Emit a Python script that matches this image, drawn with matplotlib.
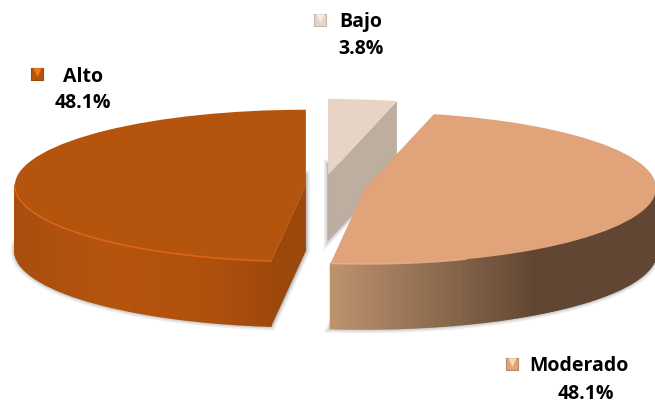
import numpy as np
import matplotlib
matplotlib.use("Agg")
from matplotlib import pyplot as plt
from matplotlib.colors import to_rgb

categories = ["Bajo", "Moderado", "Alto"]
values = [3.8, 48.1, 48.1]

top_colors = ["#e8d4c6", "#e0a37a", "#b5540d"]
cut_colors = ["#bdaea0", "#8a6a50", "#9c470c"]
rim_colors = [None, "#efb48c", "#ec6c1c"]
explode = [0.146, 0.147, 0.059]

W, H = 655, 405
CX, CY, RX, RY = 323, 186, 291, 76
DEPTH = 65 / RY

plt.rcParams["font.family"] = ["Open Sans", "DejaVu Sans"]
fig = plt.figure(figsize=(W / 100, H / 100), dpi=100)
ax = fig.add_axes([0, 0, 1, 1])

# soft shadow: the bottom face of the pie with a faded outline
for lw, alpha in [(6, 0.14), (3.5, 0.22), (1.5, 0.3)]:
  ax.pie(values, explode=explode, startangle=90, counterclock=False, center=(0, -DEPTH),
         colors=["#808080"] * 3,
         wedgeprops={"edgecolor": "#808080", "linewidth": lw, "alpha": alpha, "zorder": 1})

# top faces
wedges, _ = ax.pie(values, explode=explode, startangle=90, counterclock=False, colors=top_colors)
for w, z in zip(wedges, [3, 6, 6]):
  w.set_zorder(z)


def side_color(name, x):
  """ Horizontal shading of the outer wall, x in pixels """
  if name == "Moderado":
    stops, cols = [330, 535], ["#bf946f", "#614733"]
  else:
    stops, cols = [14, 120, 210, 272], ["#a84e0f", "#b6540e", "#b0500d", "#9f490c"]
  rgb = np.array([to_rgb(c) for c in cols])
  return [np.interp(x, stops, rgb[:, i]) for i in range(3)]


bounds = np.cumsum([0] + values) / sum(values) * 2 * np.pi
for i, name in enumerate(categories):
  t0, t1 = bounds[i], bounds[i + 1]
  mid = (t0 + t1) / 2
  ox, oy = explode[i] * np.sin(mid), explode[i] * np.cos(mid)

  # wall left by the cut, along the edge that faces the viewer
  edge = t0 if name == "Alto" else t1
  ex, ey = ox + np.sin(edge), oy + np.cos(edge)
  if name != "Moderado":
    ax.fill([ox, ex, ex, ox], [oy, ey, ey - DEPTH, oy - DEPTH],
            color=cut_colors[i], lw=0, zorder=2 if name == "Bajo" else 5)

  # outer wall, as narrow shaded strips
  t = np.linspace(t0, t1, 160)
  t = t[np.cos(t) < 0.02]
  if len(t) < 2:
    continue
  xs, ys = ox + np.sin(t), oy + np.cos(t)
  for j in range(len(t) - 1):
    c = side_color(name, CX + RX * xs[j])
    ax.fill([xs[j], xs[j + 1], xs[j + 1], xs[j]],
            [ys[j], ys[j + 1], ys[j + 1] - DEPTH, ys[j] - DEPTH],
            facecolor=c, edgecolor=c, lw=1.0, zorder=4)
  # lit edge between top face and wall
  keep = (CX + RX * xs) < (470 if name == "Moderado" else 400)
  ax.plot(xs[keep], ys[keep], color=rim_colors[i], lw=1.1, alpha=0.75, zorder=7,
          solid_capstyle="butt")

ax.set_aspect("auto")
ax.set_xlim(-CX / RX, (W - CX) / RX)
ax.set_ylim((CY - H) / RY, CY / RY)
ax.axis("off")

# labels, placed in pixels on an overlay
pix = fig.add_axes([0, 0, 1, 1], facecolor="none")
pix.set_xlim(0, W)
pix.set_ylim(H, 0)
pix.axis("off")

label_x = [361, 579, 83]
name_y = [22, 366, 77]
pct_x = [361, 586, 83]
pct_y = [49, 394, 103]
marker_x = [320, 512, 37]
marker_y = [20, 364, 74]
marker_edge = ["#c9b8ab", "#b98a66", "#9c470c"]
marker_light = ["#f6ece5", "#f7d9b0", "#ee7a20"]

for i, name in enumerate(categories):
  pix.text(label_x[i], name_y[i], name, ha="center", va="center",
           fontsize=14, fontweight="bold", color="black")
  pix.text(pct_x[i], pct_y[i], f"{values[i]:.1f}%", ha="center", va="center",
           fontsize=14, fontweight="bold", color="black")
  pix.scatter([marker_x[i]], [marker_y[i]], marker="s", s=85, color=top_colors[i],
              edgecolors=marker_edge[i], linewidths=0.8)
  pix.scatter([marker_x[i]], [marker_y[i] - 2], marker="v", s=38, color=marker_light[i],
              linewidths=0)

fig.savefig("out.png", dpi=100)
